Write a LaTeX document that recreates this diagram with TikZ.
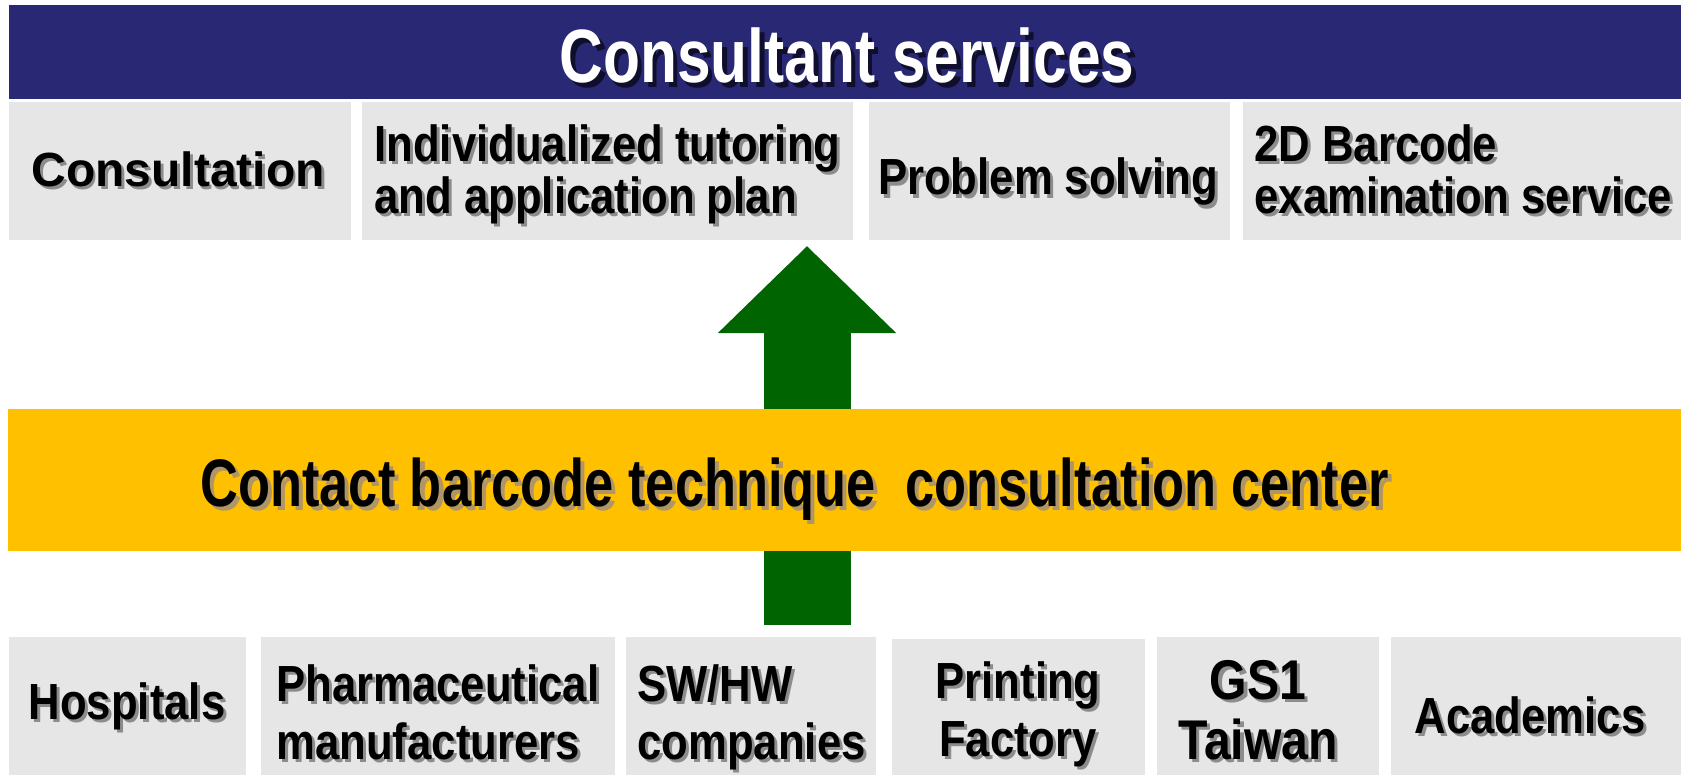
\documentclass[tikz,border=0pt]{standalone}
\usepackage{fontspec}
\setmainfont{Liberation Sans}
\newfontfamily\fTitle[FakeStretch=0.80]{Liberation Sans}
\newfontfamily\fBox[FakeStretch=0.86]{Liberation Sans}
\newfontfamily\fCenter[FakeStretch=0.78]{Liberation Sans}
\usetikzlibrary{arrows.meta}
\definecolor{navy}{RGB}{41,40,116}
\definecolor{boxgray}{RGB}{230,230,230}
\definecolor{gold}{RGB}{255,192,0}
\definecolor{dgreen}{RGB}{0,100,0}
\definecolor{shGray}{RGB}{140,140,140}
\definecolor{shNavy}{RGB}{15,15,45}
\definecolor{shGold}{RGB}{175,150,100}
\newcommand\shd[2][shGray]{\makebox[0pt][l]{\hspace{0.06em}\raisebox{-0.06em}{\textcolor{#1}{#2}}}#2}
\begin{document}
\begin{tikzpicture}[x=0.5pt,y=-0.5pt,
  box/.style={fill=boxgray, draw=none, inner sep=0pt, outer sep=0pt, anchor=north west},
  lbl/.style={inner sep=0pt, text=black, font=\fBox\bfseries\fontsize{25.4pt}{26pt}\selectfont},
  lblb/.style={lbl, font=\fBox\bfseries\fontsize{25.4pt}{29pt}\selectfont}]
\useasboundingbox (0,0) rectangle (1684,775);
% title bar
\node[fill=navy, inner sep=0pt, anchor=north west, minimum width={1672*0.5pt}, minimum height={94*0.5pt}] (titlebar) at (9,5) {};
\node[inner sep=0pt, anchor=base, text=white, font=\fTitle\bfseries\fontsize{37.8pt}{40pt}\selectfont] (titletext) at (847,83) {\shd[shNavy]{Consultant services}};
% top boxes
\node[box, minimum width={342*0.5pt}, minimum height={138*0.5pt}] (cons) at (9,102) {};
\node[box, minimum width={491*0.5pt}, minimum height={138*0.5pt}] (indiv) at (362,102) {};
\node[box, minimum width={361*0.5pt}, minimum height={138*0.5pt}] (prob) at (869,102) {};
\node[box, minimum width={438*0.5pt}, minimum height={138*0.5pt}] (bar2d) at (1243,102) {};
\node[lbl, anchor=base, font=\bfseries\fontsize{24pt}{26pt}\selectfont] (constext) at (178,187) {\shd{Consultation}};
\node[lbl, anchor=north west, align=left] (indivtext) at (374,124) {\shd{Individualized tutoring}\\\shd{and application plan}};
\node[lbl, anchor=base] (probtext) at (1048,195) {\shd{Problem solving}};
\node[lbl, anchor=north west, align=left] (bar2dtext) at (1254,124) {\shd{2D Barcode}\\\shd{examination service}};
% arrow
\coordinate (afoot) at (807,625);
\coordinate (atip) at (807,246);
\draw[dgreen, line width=43.5pt, -{Triangle[width=86.5pt,length=43.5pt]}] (afoot) -- (atip);
% centre band
\node[fill=gold, inner sep=0pt, anchor=north west, minimum width={1673*0.5pt}, minimum height={142*0.5pt}] (center) at (8,409) {};
\node[inner sep=0pt, anchor=base, text=black, font=\fCenter\bfseries\fontsize{33.6pt}{36pt}\selectfont] (centertext) at (794.5,506) {\shd[shGold]{Contact barcode technique\ \ consultation center}};
% bottom boxes
\node[box, minimum width={237*0.5pt}, minimum height={138*0.5pt}] (hosp) at (9,637) {};
\node[box, minimum width={354*0.5pt}, minimum height={138*0.5pt}] (pharma) at (261,637) {};
\node[box, minimum width={250*0.5pt}, minimum height={138*0.5pt}] (swhw) at (626,637) {};
\node[box, minimum width={253*0.5pt}, minimum height={136*0.5pt}] (print) at (892,639) {};
\node[box, minimum width={222*0.5pt}, minimum height={138*0.5pt}] (gs1) at (1157,637) {};
\node[box, minimum width={290*0.5pt}, minimum height={138*0.5pt}] (acad) at (1391,637) {};
\node[lblb, anchor=base] (hosptext) at (127,719) {\shd{Hospitals}};
\node[lblb, anchor=north west, align=left] (pharmatext) at (276,664) {\shd{Pharmaceutical}\\\shd{manufacturers}};
\node[lblb, anchor=north west, align=left] (swhwtext) at (637,664) {\shd{SW/HW}\\\shd{companies}};
\node[lblb, anchor=north, align=center] (printtext) at (1018,661) {\shd{Printing}\\\shd{Factory}};
\node[lblb, anchor=north, align=center, font=\fBox\bfseries\fontsize{28pt}{30pt}\selectfont] (gs1text) at (1258,660) {\shd{GS1}\\\shd{Taiwan}};
\node[lblb, anchor=base] (acadtext) at (1530,733) {\shd{Academics}};
\end{tikzpicture}
\end{document}
